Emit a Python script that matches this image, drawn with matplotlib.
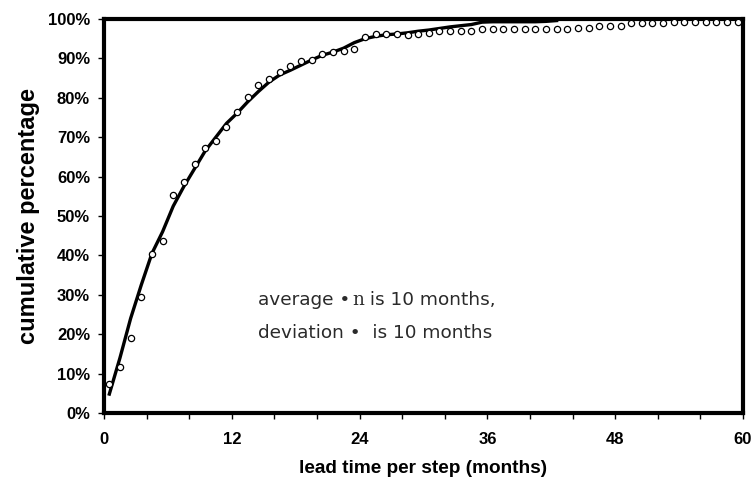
import matplotlib
matplotlib.use("Agg")
import matplotlib.pyplot as plt
from matplotlib.ticker import MultipleLocator, FuncFormatter

# observed cumulative share per month bucket (circles)
obs_months = [m + 0.5 for m in range(60)]
obs_pct = [
    7.4, 11.7, 19.0, 29.4, 40.4, 43.6, 55.3, 58.6, 63.2, 67.3,
    69.0, 72.7, 76.5, 80.3, 83.2, 84.8, 86.5, 88.1, 89.3, 89.7,
    91.1, 91.5, 91.9, 92.3, 95.5, 96.1, 96.1, 96.2, 95.9, 96.1,
    96.4, 96.9, 97.0, 96.9, 96.9, 97.4, 97.4, 97.4, 97.4, 97.4,
    97.4, 97.4, 97.4, 97.4, 97.8, 97.8, 98.2, 98.2, 98.2, 98.9,
    98.9, 98.9, 98.9, 99.2, 99.2, 99.2, 99.2, 99.2, 99.2, 99.2,
]

# fitted curve
fit_months = [m + 0.5 for m in range(43)]
fit_pct = [
    4.8, 14.0, 24.0, 32.5, 40.5, 46.0, 52.5, 57.5, 62.0, 66.5,
    70.0, 73.5, 76.1, 79.0, 81.6, 84.0, 85.8, 87.0, 88.3, 89.6,
    90.8, 91.6, 92.6, 94.0, 95.0, 95.6, 96.0, 96.2, 96.5, 96.9,
    97.2, 97.6, 98.0, 98.3, 98.6, 99.2, 99.3, 99.3, 99.3, 99.3,
    99.3, 99.4, 99.6,
]

annotation = ["average \u2022", "n", " is 10 months,"]
annotation2 = "deviation \u2022  is 10 months"

fig = plt.figure(figsize=(7.52, 4.95), dpi=100)
ax = fig.add_axes([0.1383, 0.1657, 0.8497, 0.7959])

ax.plot(fit_months, fit_pct, color="black", linewidth=2.4, zorder=3)
ax.plot(obs_months, obs_pct, linestyle="none", marker="o", markersize=4.5,
        markerfacecolor="white", markeredgecolor="black", markeredgewidth=0.9,
        zorder=4)

ax.set_xlim(0, 60)
ax.set_ylim(0, 100)
ax.xaxis.set_major_locator(MultipleLocator(12))
ax.xaxis.set_minor_locator(MultipleLocator(4))
ax.yaxis.set_major_locator(MultipleLocator(10))
ax.yaxis.set_major_formatter(FuncFormatter(lambda v, p: f"{v:.0f}%"))

for s in ax.spines.values():
    s.set_linewidth(3)
    s.set_color("black")

ax.tick_params(axis="both", which="major", direction="out", length=4,
               width=1, color="black")
ax.tick_params(axis="x", which="minor", direction="out", length=4, width=1)
ax.tick_params(axis="y", pad=6)
ax.tick_params(axis="x", pad=10)

for lab in ax.get_xticklabels() + ax.get_yticklabels():
    lab.set_fontfamily("Liberation Sans")
    lab.set_fontweight("bold")
    lab.set_fontsize(12)

ax.set_xlabel("lead time per step (months)", family="Liberation Sans",
              fontweight="bold", fontsize=13.7, labelpad=9)
ax.set_ylabel("cumulative percentage", family="Liberation Sans",
              fontweight="bold", fontsize=17, labelpad=6)

# annotation text, first line mixes a serif glyph in the middle
ty1, ty2 = 0.287, 0.203
t1 = ax.text(0.241, ty1, annotation[0], transform=ax.transAxes,
             fontsize=13.3, family="DejaVu Sans", color="#2a2a2a",
             va="center", ha="left")
fig.canvas.draw()
r = fig.canvas.get_renderer()
bb = t1.get_window_extent(r).transformed(ax.transAxes.inverted())
t2 = ax.text(bb.x1 + 0.003, ty1, annotation[1], transform=ax.transAxes,
             fontsize=13.3, family="DejaVu Serif", color="#2a2a2a",
             va="center", ha="left")
bb2 = t2.get_window_extent(r).transformed(ax.transAxes.inverted())
ax.text(bb2.x1, ty1, annotation[2], transform=ax.transAxes,
        fontsize=13.3, family="DejaVu Sans", color="#2a2a2a",
        va="center", ha="left")
ax.text(0.241, ty2, annotation2, transform=ax.transAxes,
        fontsize=13.3, family="DejaVu Sans", color="#2a2a2a",
        va="center", ha="left")

fig.savefig("out.png", dpi=100)
